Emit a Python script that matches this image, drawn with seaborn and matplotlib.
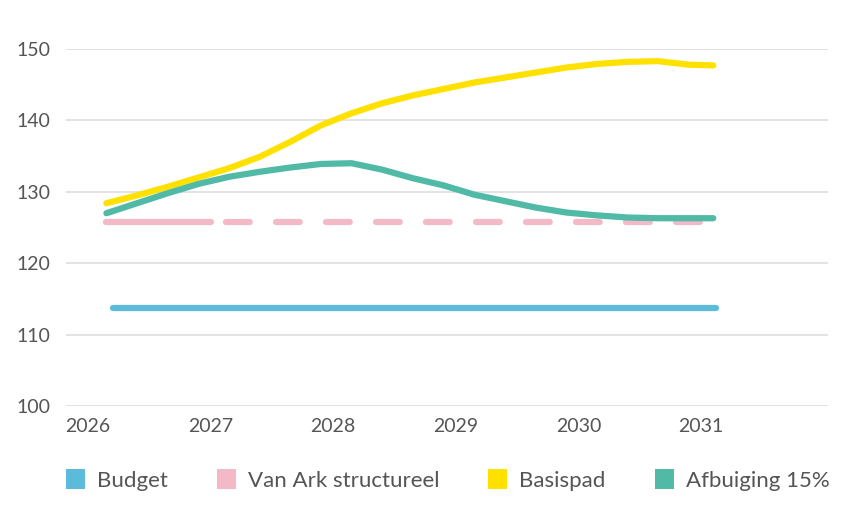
import numpy as np
import pandas as pd
import matplotlib
matplotlib.use('Agg')
import matplotlib.pyplot as plt
from matplotlib.patches import Patch
import seaborn as sns

# x positions in years
years = [2026.15, 2026.4, 2026.65, 2026.9, 2027.15, 2027.4, 2027.65, 2027.9,
         2028.15, 2028.4, 2028.65, 2028.9, 2029.15, 2029.4, 2029.65, 2029.9,
         2030.15, 2030.4, 2030.65, 2030.9, 2031.1]

basispad = [128.4, 129.5, 130.7, 132.0, 133.3, 134.9, 137.0, 139.3,
            141.0, 142.4, 143.5, 144.4, 145.3, 146.0, 146.7, 147.4,
            147.9, 148.2, 148.3, 147.8, 147.7]

afbuiging = [127.0, 128.4, 129.8, 131.1, 132.1, 132.8, 133.4, 133.9,
             134.0, 133.1, 131.9, 130.9, 129.6, 128.7, 127.8, 127.1,
             126.7, 126.4, 126.3, 126.3, 126.3]

budget_x = [2026.2, 2031.12]
budget = [113.7, 113.7]

vanark_x = [2026.15, 2027.0, 2031.1]
vanark = [125.8, 125.8, 125.8]

tick_years = [2026, 2027, 2028, 2029, 2030, 2031]
labels = ['Budget', 'Van Ark structureel', 'Basispad', 'Afbuiging 15%']
colors = ['#5cbadb', '#f4b9c7', '#ffe100', '#50baa7']

sns.set_style('white')
plt.rcParams['font.family'] = ['Lato', 'DejaVu Sans']

fig = plt.figure(figsize=(8.5, 5.09), dpi=100)
ax = fig.add_axes([66 / 850, 1 - 406 / 509, 762 / 850, 357 / 509])

lw = 4.5
sns.lineplot(x=budget_x, y=budget, ax=ax, color=colors[0], lw=lw,
             solid_capstyle='round', clip_on=False)
# Van Ark: solid first year, dashed afterwards
sns.lineplot(x=vanark_x[:2], y=vanark[:2], ax=ax, color=colors[1], lw=lw,
             solid_capstyle='round', clip_on=False)
sns.lineplot(x=vanark_x[1:], y=vanark[1:], ax=ax, color=colors[1], lw=lw,
             linestyle=(5.6, (3.8, 4.2)), dash_capstyle='round', clip_on=False)
sns.lineplot(x=years, y=basispad, ax=ax, color=colors[2], lw=lw,
             solid_capstyle='round', solid_joinstyle='round', clip_on=False)
sns.lineplot(x=years, y=afbuiging, ax=ax, color=colors[3], lw=lw,
             solid_capstyle='round', solid_joinstyle='round', clip_on=False)

ax.set_xlim(2026 - 22 / 122.6, 2026 + 740 / 122.6)
ax.set_ylim(100, 150)
ax.set_xticks(tick_years)
ax.set_xticklabels([str(y) for y in tick_years])
ax.set_yticks([100, 110, 120, 130, 140, 150])
ax.yaxis.grid(True, color='#e0e0e0', lw=1.3)
ax.xaxis.grid(False)
ax.set_axisbelow(True)
for s in ax.spines.values():
    s.set_visible(False)
ax.tick_params(axis='both', length=0, labelsize=14, colors='#555555')
ax.tick_params(axis='y', pad=11.5)
ax.tick_params(axis='x', pad=9)

handles = [Patch(facecolor=c, edgecolor='none') for c in colors]
fig.legend(handles, labels, loc='center left', bbox_to_anchor=(46 / 850, 0.057),
           ncol=4, frameon=False, fontsize=16, handlelength=0.85, handleheight=1.0,
           handletextpad=0.55, columnspacing=2.2, labelcolor='#555555')

plt.savefig('out.png', dpi=100)
